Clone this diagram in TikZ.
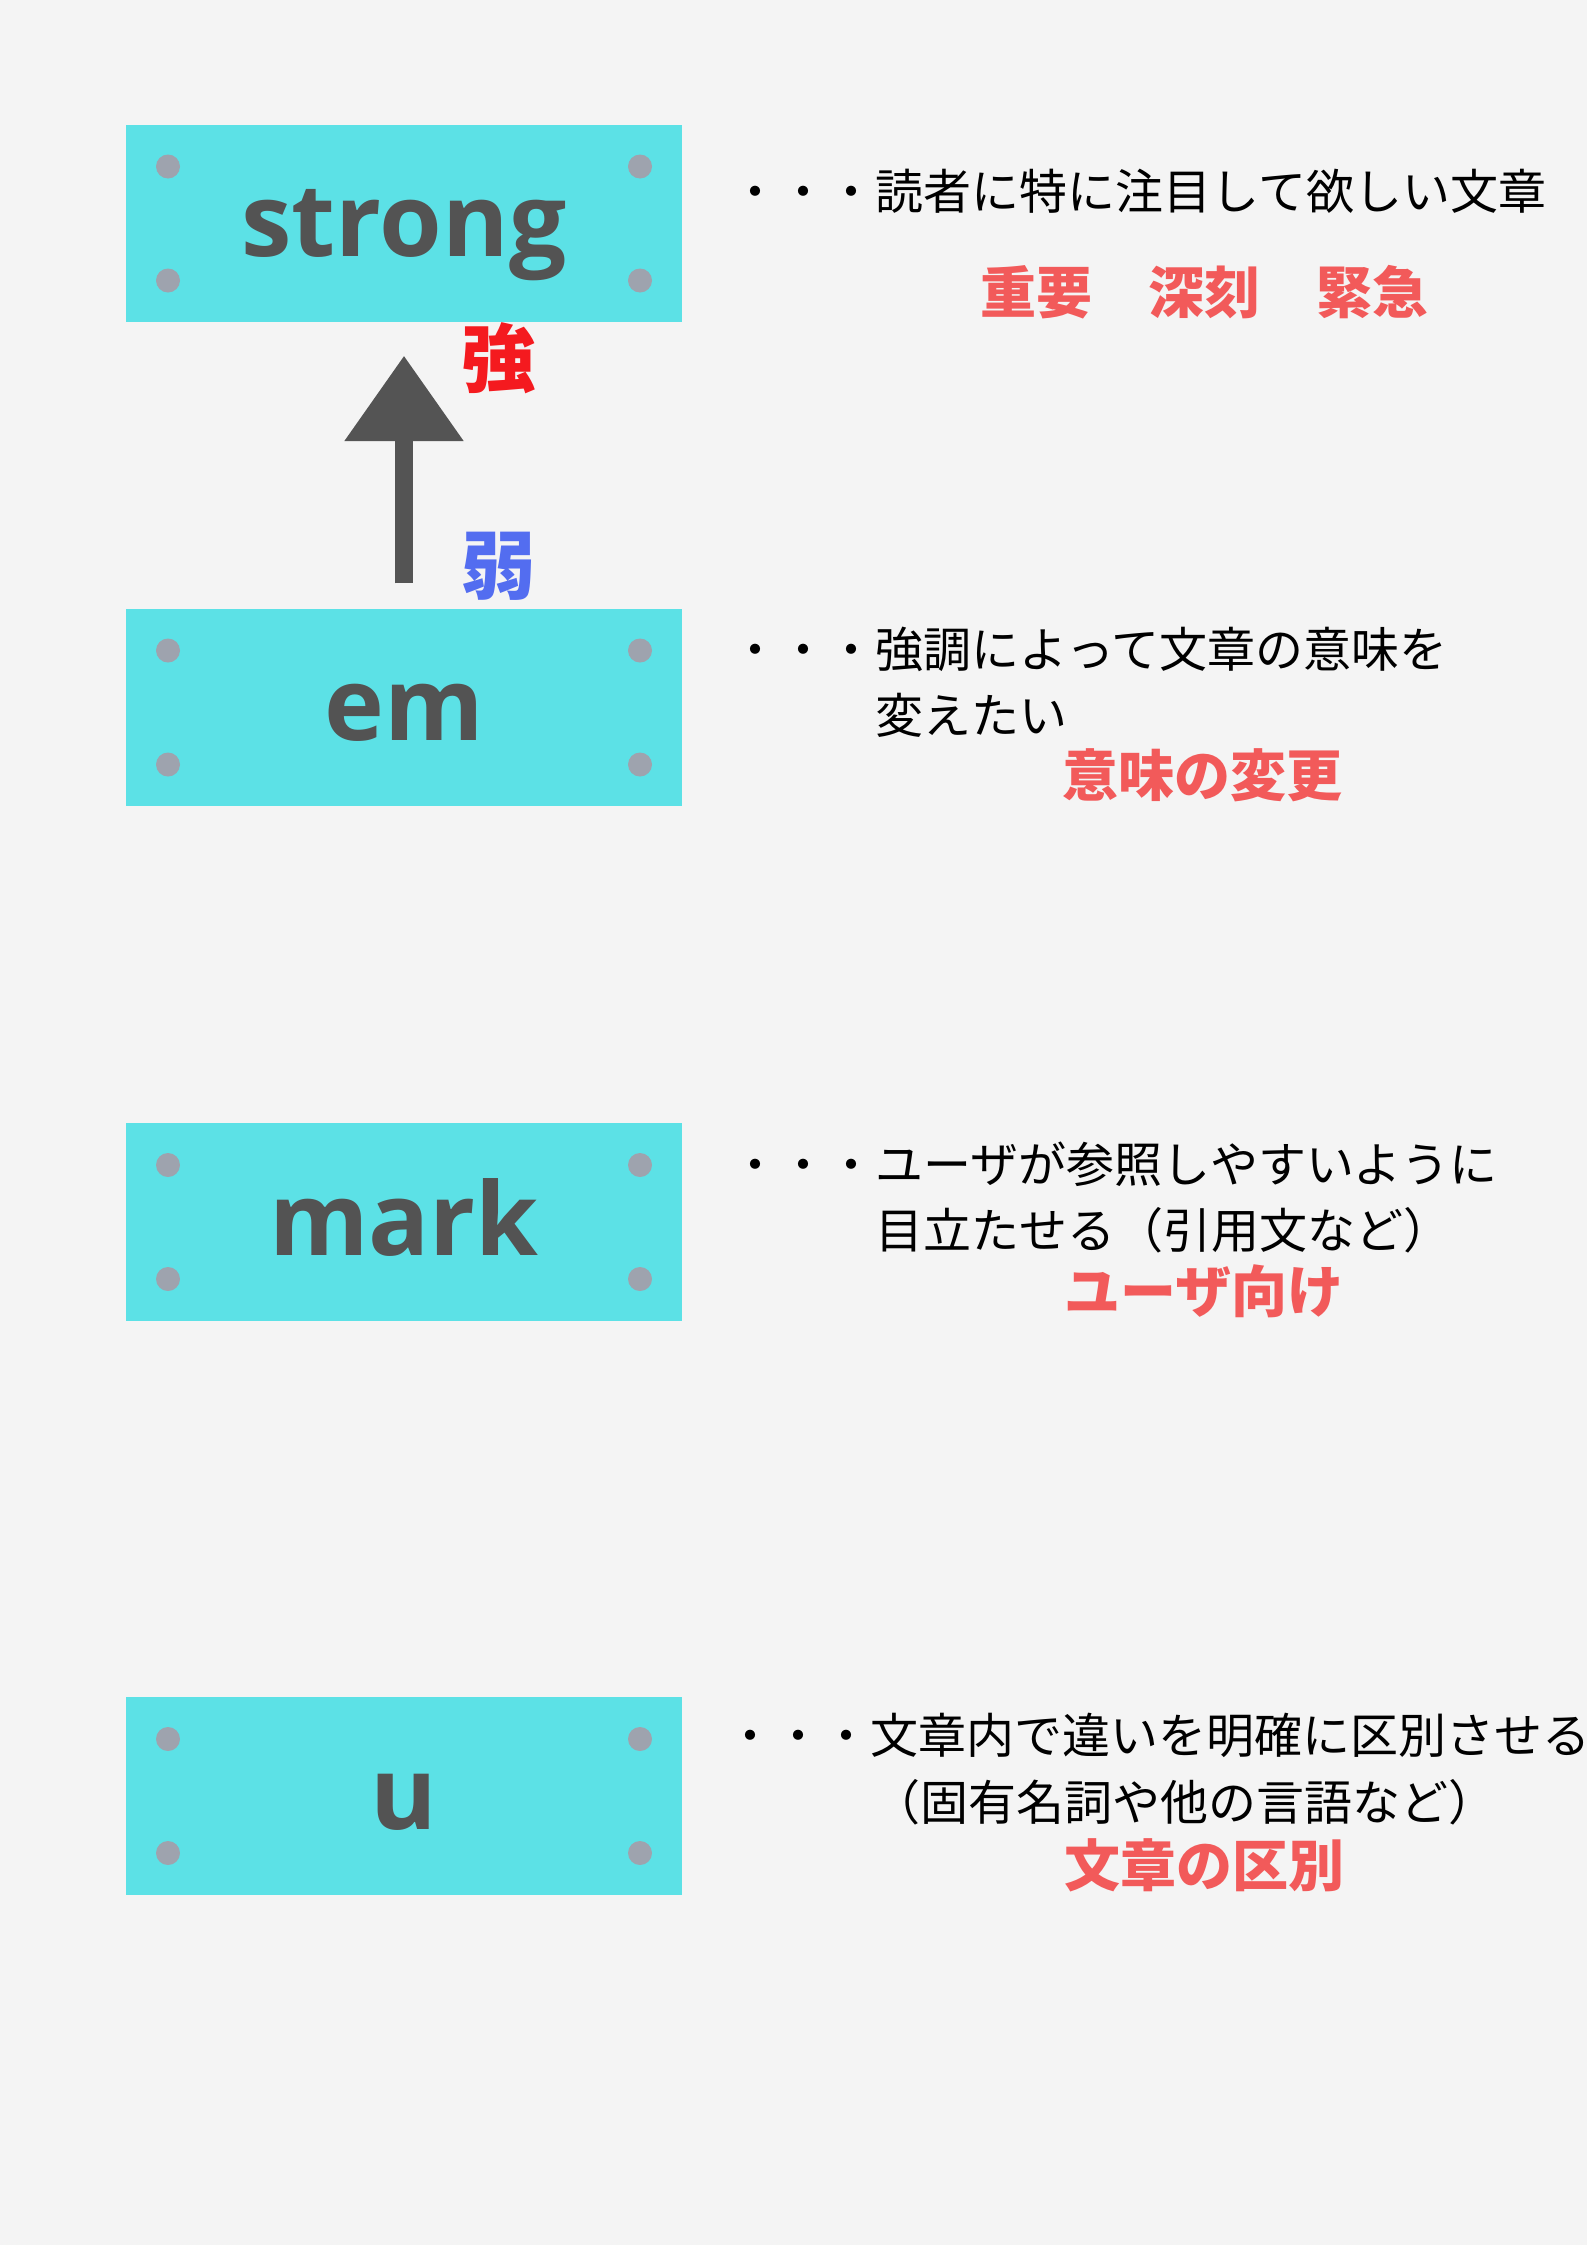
\documentclass[tikz,border=0pt]{standalone}
\usepackage{fontspec}
\setmainfont{Open Sans}
\newfontfamily\jp{Noto Sans CJK JP}
\usetikzlibrary{calc,arrows.meta}
\definecolor{paper}{HTML}{F4F4F4}
\definecolor{tagcyan}{HTML}{5CE1E6}
\definecolor{tagtext}{HTML}{535353}
\definecolor{pingray}{HTML}{9EA3AE}
\definecolor{arrowgray}{HTML}{545454}
\definecolor{coral}{HTML}{F25A5A}
\definecolor{hired}{HTML}{F41A1F}
\definecolor{loblue}{HTML}{536DF0}
\begin{document}
\begin{tikzpicture}[x=0.375pt,y=-0.375pt,
	tag/.style={fill=tagcyan,minimum width=208.5pt,minimum height=74pt,inner sep=0pt},
	tagname/.style={text=tagtext,font=\fontsize{38}{38}\selectfont\bfseries,anchor=base,inner sep=0pt},
	desc/.style={font=\jp\fontsize{18}{18}\selectfont,anchor=west,inner sep=0pt},
	keyword/.style={text=coral,font=\jp\bfseries\fontsize{21}{21}\selectfont,inner sep=0pt},
	grade/.style={font=\jp\bfseries\fontsize{28}{28}\selectfont,inner sep=0pt}]
	\useasboundingbox (0,0) rectangle (1587,2245);
	\fill[paper] (0,0) rectangle (1587,2245);
	\foreach \name/\y in {strong/223.5,em/707.5,mark/1222,u/1796} {
		\node[tag] (\name) at (404,\y) {};
		\foreach \dx in {-236,236} \foreach \dy in {-57,57} \fill[pingray] ($(\name)+(\dx,\dy)$) circle[radius=12];
		\node[tagname] (\name-text) at ($(\name)+(0,33)$) {\name};
	}
	\draw[arrowgray,line width=6.5pt,-{Triangle[width=43pt,length=32pt]}] ($(em.north)+(0,-25)$) -- ($(strong.south)+(0,33)$);
	\node[grade,text=hired] (high) at (499,358) {強};
	\node[grade,text=loblue] (low) at (499,566) {弱};
	\node[desc] (strong-a) at (731,191) {・・・読者に特に注目して欲しい文章};
	\node[keyword] (strong-k) at (1204,292) {重要　深刻　緊急};
	\node[desc] (em-a) at (731,649) {・・・強調によって文章の意味を};
	\node[desc] (em-b) at (875,715) {変えたい};
	\node[keyword] (em-k) at (1202,775) {意味の変更};
	\node[desc] (mark-a) at (731,1164) {・・・ユーザが参照しやすいように};
	\node[desc] (mark-b) at (875,1230) {目立たせる（引用文など）};
	\node[keyword] (mark-k) at (1204,1291) {ユーザ向け};
	\node[desc] (u-a) at (726,1735) {・・・文章内で違いを明確に区別させる};
	\node[desc,anchor=center] (u-b) at (1184,1802) {（固有名詞や他の言語など）};
	\node[keyword] (u-k) at (1204,1865) {文章の区別};
\end{tikzpicture}
\end{document}
